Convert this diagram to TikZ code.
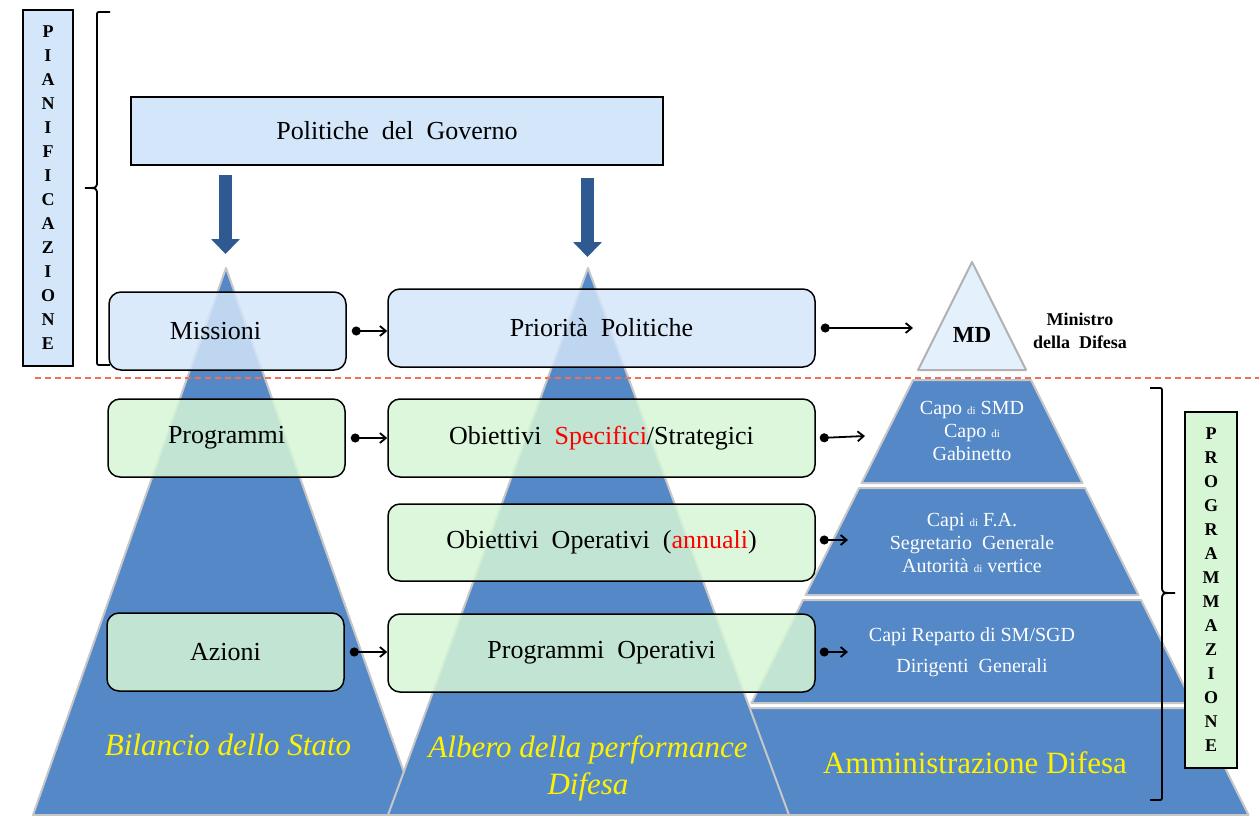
\documentclass[tikz,border=0pt]{standalone}
\usepackage{fontspec}
\setmainfont{Liberation Serif}
\usetikzlibrary{arrows.meta}
\definecolor{pyrblue}{RGB}{84,136,199}
\definecolor{boxblue}{RGB}{212,230,250}
\definecolor{boxgreen}{RGB}{214,246,214}
\definecolor{dashred}{RGB}{243,110,85}
\definecolor{arrblue}{RGB}{47,90,145}
\definecolor{mdblue}{RGB}{228,240,251}
\tikzset{
  pyr/.style={fill=pyrblue, draw=black!22, line width=2pt, line join=round},
  mdtri/.style={fill=mdblue, draw=black!30, line width=2pt, line join=round},
  govbox/.style={draw, line width=1.5pt, fill=boxblue, minimum width=532, minimum height=68,
    font=\fontsize{26}{30}\selectfont},
  bluebox/.style={draw, line width=1.5pt, rounded corners=12pt, fill=boxblue, fill opacity=0.84,
    text opacity=1, minimum height=78, font=\fontsize{26}{30}\selectfont},
  greenbox/.style={bluebox, fill=boxgreen},
  link/.style={line width=1.8pt, {Circle[length=9pt]}-{Straight Barb[length=6pt,width=10pt]}},
  bigarrow/.style={arrblue, line width=13pt, -{Triangle[length=15pt,width=28pt]}},
  tiertext/.style={text=white, align=center, font=\fontsize{20}{23}\selectfont},
  yellowtext/.style={text=yellow, align=center, font=\itshape\fontsize{31}{37}\selectfont},
  vletters/.style={draw, line width=1.8pt, align=center, inner sep=0pt,
    font=\bfseries\fontsize{18}{24}\selectfont},
  brace/.style={line width=1.8pt},
}
\newcommand{\smalldi}{{\fontsize{11}{11}\selectfont di}}
\begin{document}
\begin{tikzpicture}[x=1pt,y=-1pt]
\useasboundingbox (0,0) rectangle (1259,816);
% third pyramid: MD and the four tiers
\draw[mdtri] (972,262) -- (1026,370) -- (918,370) -- cycle;
\draw[pyr] (913,380) -- (1031,380) -- (1082.5,483) -- (861.5,483) -- cycle;
\draw[pyr] (859,488) -- (1085,488) -- (1138.5,595) -- (805.5,595) -- cycle;
\draw[pyr] (803,600) -- (1141,600) -- (1192.5,703) -- (751.5,703) -- cycle;
\draw[pyr] (749,708) -- (1195,708) -- (1248.5,815) -- (695.5,815) -- cycle;
% first and second pyramid
\draw[pyr] (226,268) -- (419,815) -- (33,815) -- cycle;
\draw[pyr] (588,268) -- (789,815) -- (388,815) -- cycle;

\node[govbox] (gov) at (397,131) {Politiche\ \ del\ \ Governo};
\coordinate (a1) at (225.5,175);
\coordinate (b1) at (225.5,254);
\coordinate (a2) at (587.5,178);
\coordinate (b2) at (587.5,257);
\draw[bigarrow] (a1) -- (b1);
\draw[bigarrow] (a2) -- (b2);

\node[bluebox, minimum width=237] (mis) at (227.5,331) {Missioni\kern24pt};
\node[bluebox, minimum width=427] (pri) at (601.5,328) {Priorità\ \ Politiche};
\node[greenbox, minimum width=237] (prog) at (226.5,438) {Programmi};
\node[greenbox, minimum width=427] (obs) at (601.5,438)
  {Obiettivi\ \ \textcolor{red}{Specifici}/Strategici};
\node[greenbox, minimum width=427, minimum height=77] (obo) at (601.5,542.5)
  {Obiettivi\ \ Operativi\ \ (\textcolor{red}{annuali})};
\node[greenbox, minimum width=237] (azi) at (225.5,652) {Azioni};
\node[greenbox, minimum width=427] (pro) at (601.5,653) {Programmi\ \ Operativi};

\draw[dashred, line width=2pt, dash pattern=on 6pt off 4pt] (35,378) -- (1259,378);

\node[font=\bfseries\fontsize{23}{26}\selectfont] (md) at (972,335) {MD};
\node[align=center, font=\bfseries\fontsize{18}{23}\selectfont] (mdname) at (1080,331)
  {Ministro\\della\ \ Difesa};
\node[tiertext] (cap1) at (972,431) {Capo \smalldi{} SMD\\Capo \smalldi\\Gabinetto};
\node[tiertext] (cap2) at (972,543) {Capi \smalldi{} F.A.\\Segretario\ \ Generale\\Autorità \smalldi{} vertice};
\node[tiertext, font=\fontsize{20}{31}\selectfont] (cap3) at (972,652)
  {Capi Reparto di SM/SGD\\Dirigenti\ \ Generali};
\node[yellowtext, font=\fontsize{31}{36}\selectfont] (amm) at (975,763) {Amministrazione Difesa};
\node[yellowtext] (bil) at (228,745) {Bilancio dello Stato};
\node[yellowtext] (alb) at (588,768) {Albero della performance\\Difesa};

\coordinate (mdin) at (913,328);
\coordinate (t1in) at (865,436);
\coordinate (t2in) at (848,540);
\coordinate (t3in) at (848,652);
\draw[link] ([xshift=5pt]mis.east) -- (mis.east -| pri.west);
\draw[link] ([xshift=5pt]pri.east) -- (mdin);
\draw[link] ([xshift=5pt]prog.east) -- (obs.west);
\draw[link] ([xshift=4pt]obs.east) -- (t1in);
\draw[link] ([xshift=4pt]obo.east |- t2in) -- (t2in);
\draw[link] ([xshift=5pt]azi.east) -- (azi.east -| pro.west);
\draw[link] ([xshift=4pt]pro.east |- t3in) -- (t3in);

\node[vletters, fill=boxblue, minimum width=50, minimum height=356] (pian) at (48,188)
  {P\\I\\A\\N\\I\\F\\I\\C\\A\\Z\\I\\O\\N\\E};
\node[vletters, fill=boxgreen, minimum width=52, minimum height=356] (progr) at (1211,590)
  {P\\R\\O\\G\\R\\A\\M\\M\\A\\Z\\I\\O\\N\\E};
% braces
\draw[brace] (110,12) -- (101,12) .. controls (97,12) .. (97,16) -- (97,181)
  .. controls (97,188) .. (85,188) .. controls (97,188) .. (97,195) -- (97,361)
  .. controls (97,365) .. (101,365) -- (110,365);
\draw[brace] (1150,388) -- (1158,388) .. controls (1162,388) .. (1162,392) -- (1162,586)
  .. controls (1162,593) .. (1175,593) .. controls (1162,593) .. (1162,600) -- (1162,796)
  .. controls (1162,800) .. (1158,800) -- (1150,800);
\end{tikzpicture}
\end{document}
